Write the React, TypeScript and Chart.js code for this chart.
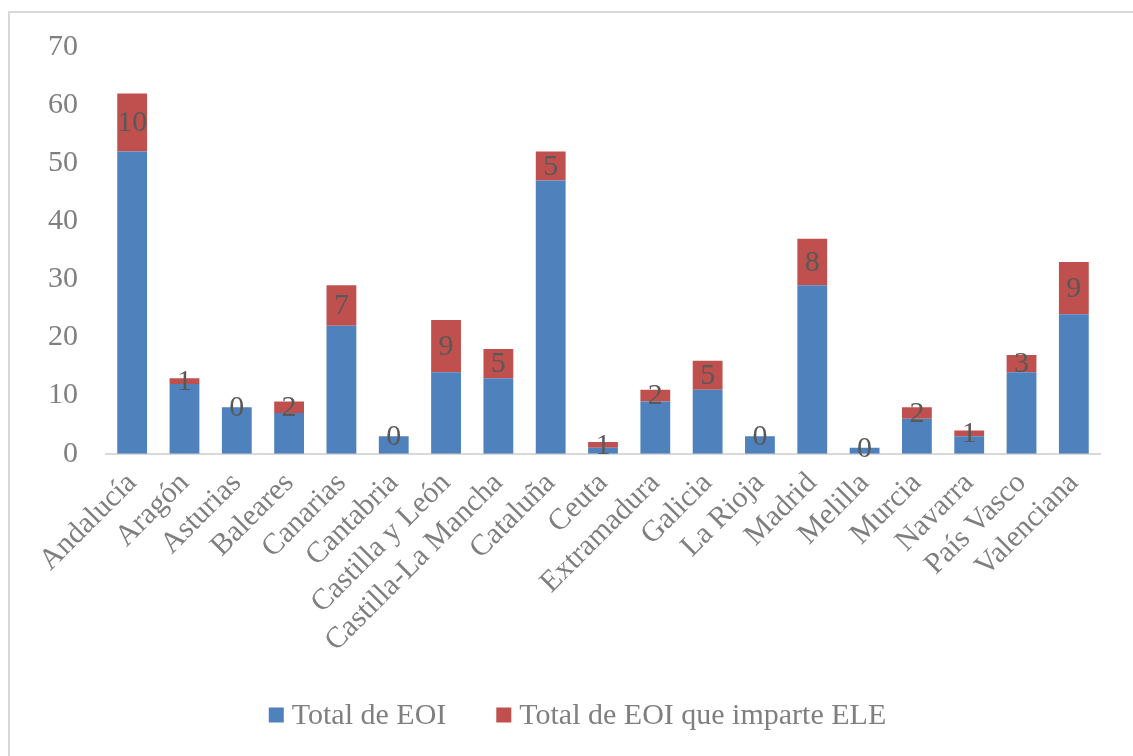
import React, { useEffect, useRef } from "react";
import { Chart, registerables } from "chart.js";

Chart.register(...registerables);

const categories = [
  "Andalucía", "Aragón", "Asturias", "Baleares", "Canarias", "Cantabria",
  "Castilla y León", "Castilla-La Mancha", "Cataluña", "Ceuta", "Extramadura",
  "Galicia", "La Rioja", "Madrid", "Melilla", "Murcia", "Navarra", "País Vasco", "Valenciana",
];
const totalEOI = [52, 12, 8, 7, 22, 3, 14, 13, 47, 1, 9, 11, 3, 29, 1, 6, 3, 14, 24];
const totalELE = [10, 1, 0, 2, 7, 0, 9, 5, 5, 1, 2, 5, 0, 8, 0, 2, 1, 3, 9];
const seriesNames = ["Total de EOI", "Total de EOI que imparte ELE"];
const seriesColors = ["#4f81bd", "#c0504d"];
const yTicks = [0, 10, 20, 30, 40, 50, 60, 70];

const FONT = "'Liberation Serif', serif";

const labelPlugin = {
  id: "segLabels",
  afterDatasetsDraw(chart: any) {
    const ctx = chart.ctx;
    const meta = chart.getDatasetMeta(1);
    const data = chart.data.datasets[1].data;
    ctx.save();
    ctx.font = `30px ${FONT}`;
    ctx.fillStyle = "#595959";
    ctx.textAlign = "center";
    ctx.textBaseline = "middle";
    meta.data.forEach((el: any, i: number) => {
      const p = el.getProps(["x", "y", "base"], true);
      ctx.fillText(String(data[i]), p.x, (p.y + p.base) / 2 + 1);
    });
    ctx.restore();
  },
};

const legendPlugin = {
  id: "bottomLegend",
  afterDraw(chart: any) {
    const ctx = chart.ctx;
    const box = 15;
    const gap = 8;
    const itemGap = 50;
    ctx.save();
    ctx.font = `30px ${FONT}`;
    ctx.textBaseline = "middle";
    ctx.textAlign = "left";
    const items = chart.data.datasets.map((d: any) => ({
      text: d.label,
      color: d.backgroundColor,
      w: box + gap + ctx.measureText(d.label).width,
    }));
    const total = items.reduce((s: number, it: any) => s + it.w, 0) + itemGap * (items.length - 1);
    let x = chart.width / 2 + 6 - total / 2;
    const y = chart.height - 29;
    items.forEach((it: any) => {
      ctx.fillStyle = it.color;
      ctx.fillRect(x, y - box / 2, box, box);
      ctx.fillStyle = "#7f7f7f";
      ctx.fillText(it.text, x + box + gap, y + 1);
      x += it.w + itemGap;
    });
    ctx.restore();
  },
};

export default function App() {
  const ref = useRef<HTMLCanvasElement>(null);
  useEffect(() => {
    document.body.style.overflow = "hidden";
    const chart = new Chart(ref.current!, {
      type: "bar",
      data: {
        labels: categories,
        datasets: [
          {
            label: seriesNames[0],
            data: totalEOI,
            backgroundColor: seriesColors[0],
            borderWidth: 0,
            barPercentage: 0.57,
            categoryPercentage: 1,
          },
          {
            label: seriesNames[1],
            data: totalELE,
            backgroundColor: seriesColors[1],
            borderWidth: 0,
            barPercentage: 0.57,
            categoryPercentage: 1,
          },
        ],
      },
      options: {
        animation: false,
        responsive: false,
        maintainAspectRatio: false,
        layout: { padding: { left: 10, right: 33, top: 34, bottom: 81 } },
        plugins: {
          legend: { display: false },
          tooltip: { enabled: false },
        },
        scales: {
          x: {
            stacked: true,
            grid: { display: false },
            border: { color: "#d9d9d9", width: 2 },
            ticks: {
              color: "#7f7f7f",
              font: { family: FONT, size: 30 },
              minRotation: 45,
              maxRotation: 45,
              autoSkip: false,
              padding: 4,
            },
          },
          y: {
            stacked: true,
            min: 0,
            max: 70,
            grid: { display: false, drawTicks: false },
            border: { display: false },
            afterBuildTicks: (axis: any) => {
              axis.ticks = yTicks.map((v) => ({ value: v }));
            },
            afterFit: (axis: any) => {
              axis.paddingTop = 0;
              axis.paddingBottom = 0;
            },
            ticks: {
              color: "#7f7f7f",
              padding: 28,
              font: { family: FONT, size: 30 },
            },
          },
        },
      },
      plugins: [labelPlugin, legendPlugin],
    });
    return () => chart.destroy();
  }, []);
  return (
    <div>
      <div
        style={{
          position: "fixed",
          left: 8,
          top: 11,
          width: 2000,
          height: 2000,
          borderTop: "2px solid #d9d9d9",
          borderLeft: "2px solid #d9d9d9",
        }}
      />
      <canvas
        ref={ref}
        width={1123}
        height={731}
        style={{ display: "block", position: "absolute", left: 10, top: 13 }}
      />
    </div>
  );
}
